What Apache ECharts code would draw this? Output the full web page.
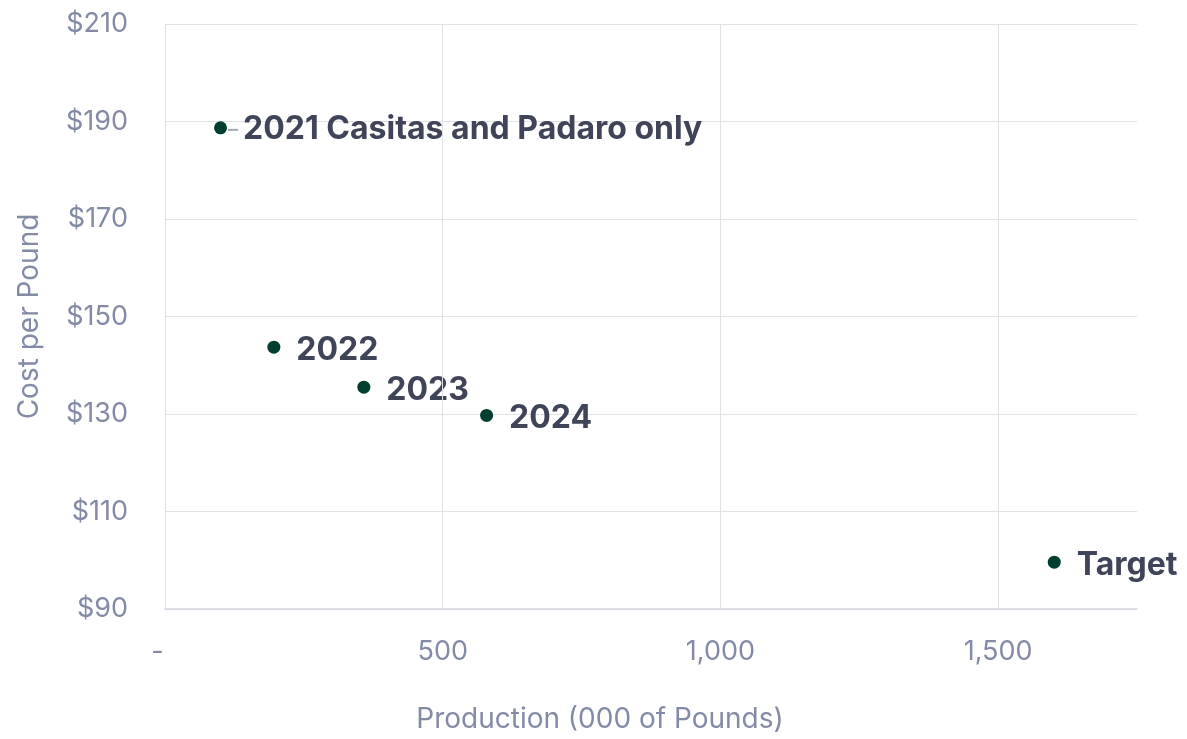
<!DOCTYPE html>
<html>
<head>
<meta charset="utf-8">
<script src="https://cdn.jsdelivr.net/npm/echarts@6/dist/echarts.min.js"></script>
<style>html,body{margin:0;padding:0;background:#fff;}#c{width:1187px;height:739px;}</style>
</head>
<body>
<div id="c"></div>
<script>
var pointNames = ['2021 Casitas and Padaro only', '2022', '2023', '2024', 'Target'];
var production = [100, 196, 358, 579, 1601];
var costPerPound = [188.7, 143.7, 135.5, 129.7, 99.6];
var xGridTicks = [500, 1000, 1500];

var FONT = 'Inter, "Open Sans", sans-serif';
var axisColor = '#838aa6';
var data = pointNames.map(function (n, i) {
  var d = { name: n, value: [production[i], costPerPound[i]] };
  if (i === 0) {
    d.label = {
      distance: 1, offset: [0, 2],
      formatter: function (p) { return '{ln|}{gap|}' + p.name; }
    };
  }
  return d;
});

var chart = echarts.init(document.getElementById('c'));
chart.setOption({
  animation: false,
  grid: { left: 165, top: 24, right: 50, bottom: 129 },
  xAxis: {
    type: 'value', min: 0, max: 1750, interval: 500,
    name: 'Production (000 of Pounds)', nameLocation: 'middle', nameGap: 97,
    nameTextStyle: { color: axisColor, fontSize: 28, fontFamily: FONT, padding: [0, 102, 0, 0] },
    axisLine: { show: true, lineStyle: { color: '#d2d5de', width: 1.5 } },
    axisTick: { show: false },
    splitLine: { show: false },
    axisLabel: {
      color: axisColor, fontSize: 27, fontFamily: FONT, margin: 29,
      formatter: function (v) {
        if (v === 1750) return '';
        if (v === 0) return '-  ';
        return v.toLocaleString('en-US');
      }
    }
  },
  yAxis: {
    type: 'value', min: 90, max: 210, interval: 20,
    name: 'Cost per Pound', nameLocation: 'middle', nameGap: 121,
    nameTextStyle: { color: axisColor, fontSize: 28, fontFamily: FONT },
    axisLine: { show: true, lineStyle: { color: '#e0e3e6', width: 1 } },
    axisTick: { show: false },
    splitLine: { lineStyle: { color: '#e0e3e6', width: 1 } },
    axisLabel: {
      color: axisColor, fontSize: 27, fontFamily: FONT, margin: 37,
      formatter: function (v) { return '$' + v; }
    }
  },
  series: [{
    type: 'scatter',
    data: data,
    symbolSize: 13,
    itemStyle: { color: '#003f2f', opacity: 1 },
    label: {
      show: true, position: 'right', distance: 16, offset: [0, 3],
      formatter: function (p) { return p.name; },
      color: '#404458', fontSize: 32, fontWeight: 'bold', fontFamily: FONT,
      rich: {
        ln: { width: 10, height: 2, backgroundColor: '#a3a7b7' },
        gap: { width: 5 }
      }
    },
    markLine: {
      silent: true, symbol: 'none', animation: false,
      label: { show: false },
      lineStyle: { color: '#e0e3e6', width: 1, type: 'solid', opacity: 1 },
      data: xGridTicks.map(function (t) { return { xAxis: t }; })
    },
    z: 3
  }]
});
</script>
</body>
</html>
